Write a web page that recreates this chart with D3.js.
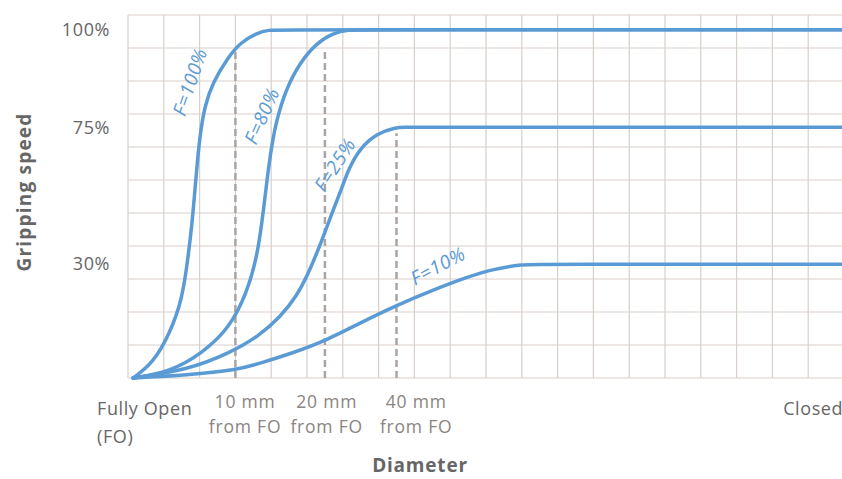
<!DOCTYPE html>
<html>
<head>
<meta charset="utf-8">
<script src="https://cdn.jsdelivr.net/npm/d3@7"></script>
<style>
  html, body { margin: 0; padding: 0; background: #fff; }
  svg { display: block; font-family: "Open Sans", "Noto Sans", sans-serif; }
</style>
</head>
<body>
<svg width="842" height="479"></svg>
<script>
// curves: [grid column, speed %]
const f100 = [[0.14,0],[0.70,3.9],[1.17,11.8],[1.51,20.5],[1.68,32.3],[1.79,43.5],[1.87,54.3],[1.94,64.2],[2.03,74.0],[2.15,80.6],[2.37,86.5],[2.77,92.6],[3.13,96.7],[3.60,99.2],[3.91,100],[4.39,100],[20,100]];
const f80  = [[0.14,0],[1.17,1.6],[2.09,6.6],[2.85,13.4],[3.32,22.4],[3.60,32.3],[3.74,43.5],[3.85,54.3],[3.97,65.8],[4.13,76.3],[4.41,84.7],[4.80,91.6],[5.28,96.7],[5.73,99.2],[6.15,100],[6.62,100],[20,100]];
const f25  = [[0.14,0],[1.65,2.1],[2.85,6.6],[3.69,11.3],[4.25,16.1],[4.72,21.6],[5.08,28.4],[5.42,37.9],[5.70,46.8],[5.95,54.3],[6.17,61.5],[6.48,68.1],[6.96,73.0],[7.46,74.9],[7.74,75],[8.1,75],[20,75]];
const f10  = [[0.14,0],[1.65,0.8],[3.04,2.1],[3.69,3.9],[4.61,6.6],[5.56,10.0],[6.48,14.5],[7.51,19.2],[8.52,23.2],[9.47,26.6],[10.2,28.7],[11.03,30],[11.5,30],[20,30]];

const seriesNames = ['F=100%','F=80%','F=25%','F=10%'];
const seriesData = [f100, f80, f25, f10];

const yTicks = [30, 75, 100];
const yTickRows = [0, 3.45, 7.6, 10.55];   // where 0/30/75/100 % sit on the grid

const markerCols = [3, 5.5, 7.5];          // 10, 20, 40 mm from FO
const markerTop = [95, 95, 73];
const xLabelCols = [3.27, 5.55, 8.05];
const xLabelText = [['10 mm','from FO'],['20 mm','from FO'],['40 mm','from FO']];

const svg = d3.select('svg');

const col = d3.scaleLinear().domain([0, 20]).range([128, 844]);
const row = d3.scaleLinear().domain([0, 11]).range([378, 15]);
const y = d3.scaleLinear().domain([0, ...yTicks]).range(yTickRows.map(row));

// grid
const grid = svg.append('g').attr('stroke', '#d9cfca').attr('stroke-width', 1.2);
grid.selectAll('line.v').data(d3.range(0, 21)).join('line')
    .attr('x1', d => col(d)).attr('x2', d => col(d))
    .attr('y1', row(11)).attr('y2', row(0));
grid.selectAll('line.h').data(d3.range(0, 12)).join('line')
    .attr('x1', col(0)).attr('x2', col(20))
    .attr('y1', d => row(d)).attr('y2', d => row(d));

// dashed markers
svg.append('g').selectAll('line').data(markerCols).join('line')
    .attr('x1', d => col(d)).attr('x2', d => col(d))
    .attr('y1', row(0)).attr('y2', (d, i) => y(markerTop[i]))
    .attr('stroke', '#aaa4a2').attr('stroke-width', 2.5)
    .attr('stroke-dasharray', '7,4');

// curves
const line = d3.line().x(d => col(d[0])).y(d => y(d[1])).curve(d3.curveBasis);
svg.append('g').selectAll('path').data(seriesData).join('path')
    .attr('d', line)
    .attr('fill', 'none')
    .attr('stroke', '#5b9bd5')
    .attr('stroke-width', 3.5)
    .attr('stroke-linecap', 'round');

// curve labels
const labelPos = [[190, 82, -71], [262, 116, -66], [335, 165, -57], [438, 266, -28]];
svg.append('g').selectAll('text').data(seriesNames).join('text')
    .attr('transform', (d, i) => `translate(${labelPos[i][0]},${labelPos[i][1]}) rotate(${labelPos[i][2]})`)
    .attr('text-anchor', 'middle').attr('dy', '0.35em')
    .attr('fill', '#5b9bd5').attr('font-size', 19).attr('font-style', 'italic')
    .attr('letter-spacing', 0.6)
    .text(d => d);

// y tick labels
svg.append('g').selectAll('text').data(yTicks).join('text')
    .attr('x', 110).attr('y', d => y(d)).attr('dy', '0.35em')
    .attr('text-anchor', 'end')
    .attr('fill', '#666').attr('font-size', 18).attr('letter-spacing', 0.6)
    .text(d => d + '%');

// x labels
const xl = svg.append('g').selectAll('text').data(xLabelText).join('text')
    .attr('text-anchor', 'middle')
    .attr('fill', '#8a8482').attr('font-size', 17.5).attr('letter-spacing', 0.8);
xl.append('tspan').attr('x', (d, i) => col(xLabelCols[i])).attr('y', 408).text(d => d[0]);
xl.append('tspan').attr('x', (d, i) => col(xLabelCols[i])).attr('y', 433).text(d => d[1]);

const fo = svg.append('text').attr('fill', '#666').attr('font-size', 18).attr('letter-spacing', 0.6);
fo.append('tspan').attr('x', 97).attr('y', 415).text('Fully Open');
fo.append('tspan').attr('x', 97).attr('y', 443).text('(FO)');

svg.append('text').attr('x', col(18.3)).attr('y', 415)
    .attr('fill', '#666').attr('font-size', 18).attr('letter-spacing', 0.6).text('Closed');

// axis titles
svg.append('text').attr('x', 420).attr('y', 472)
    .attr('text-anchor', 'middle').attr('font-weight', 'bold')
    .attr('fill', '#666').attr('font-size', 19).attr('letter-spacing', 0.8).text('Diameter');

svg.append('text').attr('transform', 'translate(31,192) rotate(-90)')
    .attr('text-anchor', 'middle').attr('font-weight', 'bold')
    .attr('fill', '#666').attr('font-size', 19).attr('letter-spacing', 1.2).text('Gripping speed');
</script>
</body>
</html>
